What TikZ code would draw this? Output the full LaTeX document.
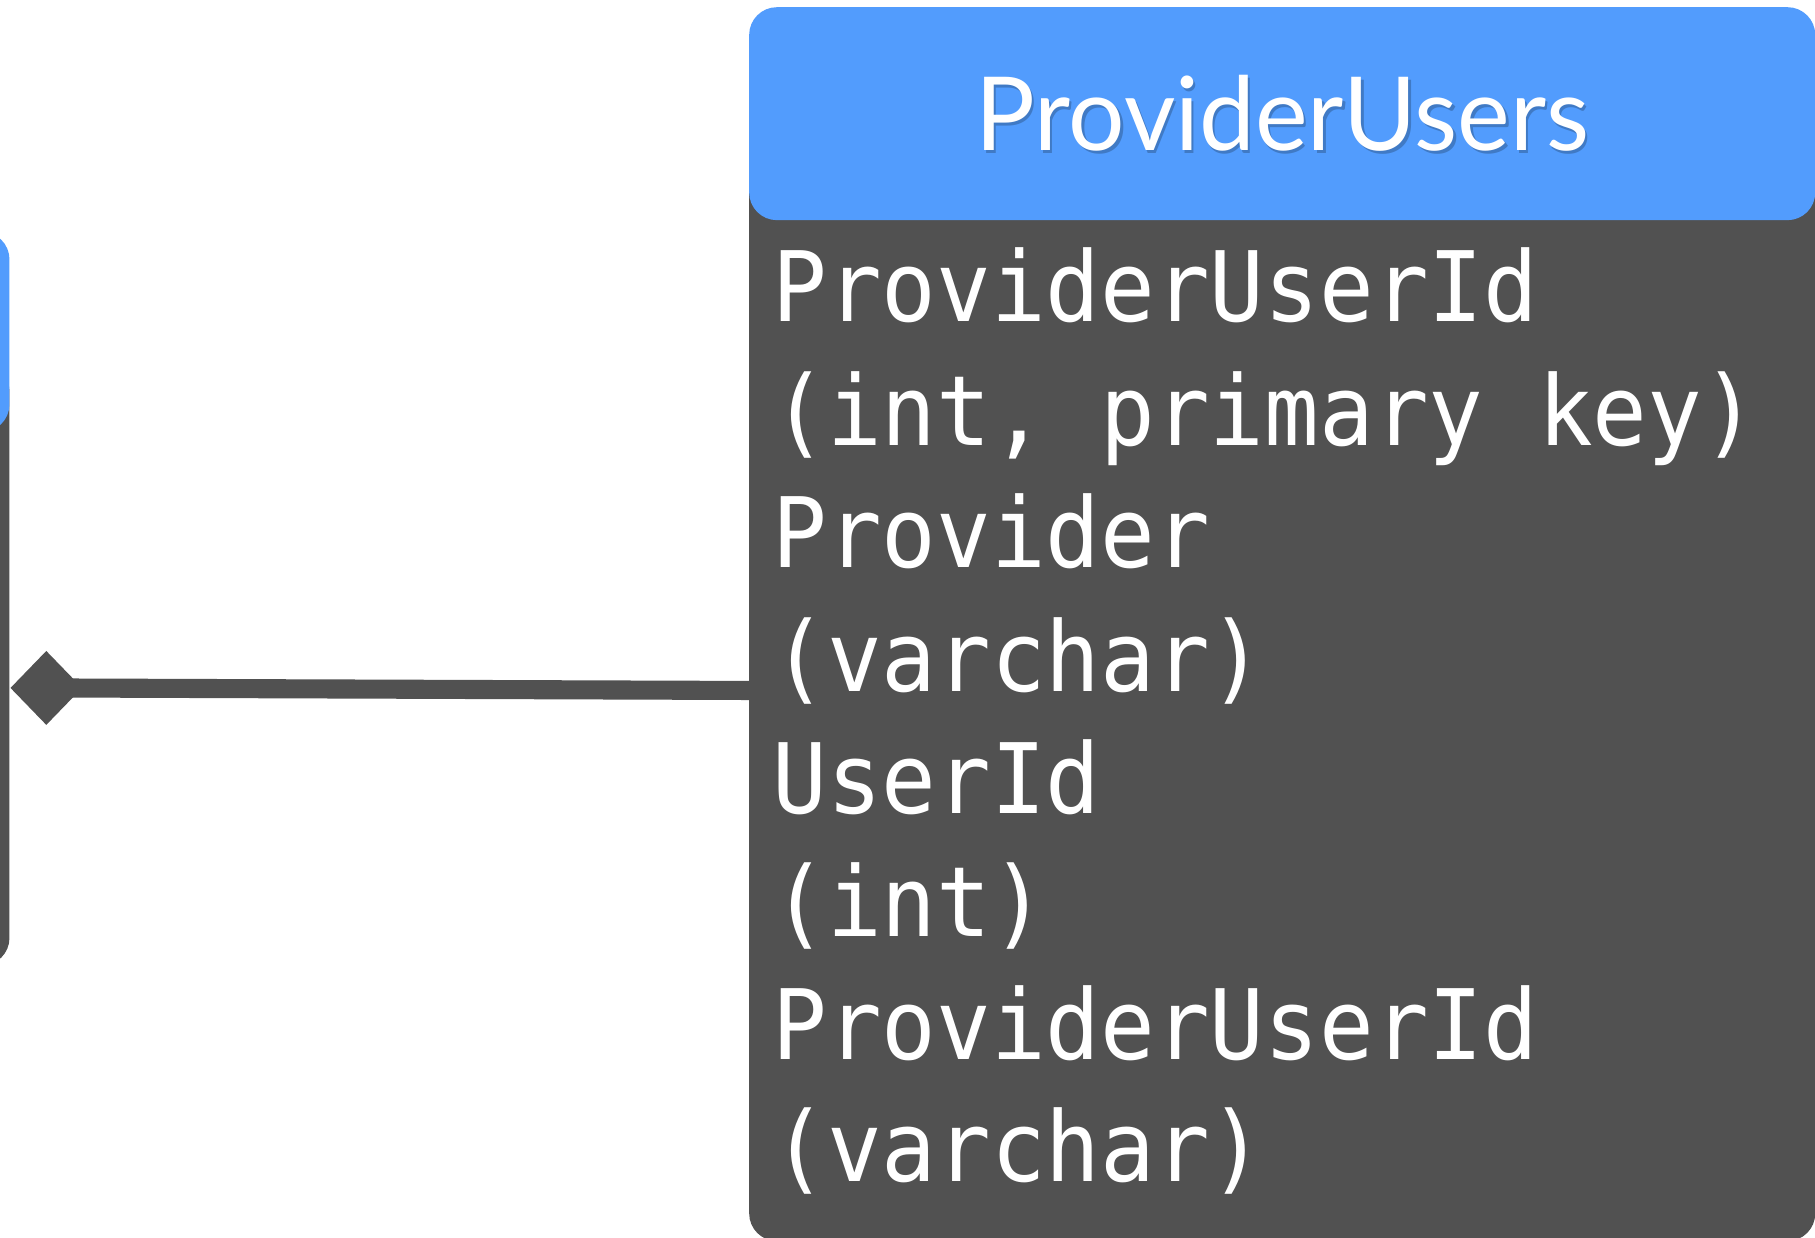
\documentclass[tikz,border=0pt]{standalone}
\usepackage{fontspec}
\usepackage{graphicx}
\usetikzlibrary{shapes.geometric}
\newfontfamily\headfont{Lato}
\newfontfamily\monofont{DejaVu Sans Mono}
\definecolor{hdrblue}{HTML}{529CFD}
\definecolor{bodygray}{HTML}{515151}
\colorlet{titleshade}{hdrblue!78!black}
\tikzset{
  boxbody/.style={rectangle, rounded corners=24pt, fill=bodygray, draw=none, inner sep=0pt, anchor=north west},
  boxhead/.style={rectangle, rounded corners=24pt, fill=hdrblue, draw=none, inner sep=0pt, anchor=north west},
  field/.style={anchor=base west, inner sep=0pt, text=white, font=\monofont\fontsize{78.5}{82}\selectfont},
  conn/.style={draw=bodygray, line width=16.5pt},
  enddiamond/.style={diamond, fill=bodygray, draw=none, inner sep=0pt, minimum width=62pt, minimum height=64pt},
}
\newcommand{\fieldtxt}[1]{\scalebox{1}[1.07]{#1}}
\newcommand{\headtxt}[1]{\resizebox{530pt}{65pt}{\headfont #1}}
\newcommand{\shadowed}[1]{\rlap{\hspace{2pt}\raisebox{-3pt}{\textcolor{titleshade}{\headtxt{#1}}}}\textcolor{white}{\headtxt{#1}}}
\begin{document}
\begin{tikzpicture}[x=1pt,y=-1pt]
\useasboundingbox (0,0) rectangle (1568,1069);
\clip (0,0) rectangle (1568,1069);
\fill[white] (0,0) rectangle (1568,1069);
% left (partial) table
\node[boxbody, minimum width=60pt, minimum height=520pt] (lbody) at (-52,314) {};
\node[boxhead, minimum width=60pt, minimum height=173pt] (lhead) at (-52,200) {};
% right table
\node[boxbody, minimum width=921pt, minimum height=932pt] (rbody) at (647,140) {};
\node[boxhead, minimum width=921pt, minimum height=184pt] (rhead) at (647,6) {};
\node[anchor=base, inner sep=0pt] (title) at (1108,130) {\shadowed{ProviderUsers}};
% fields
\node[field] (f1) at (667,278) {\fieldtxt{ProviderUserId}};
\node[field] (f2) at (667,385) {\fieldtxt{(int, primary key)}};
\node[field] (f3) at (667,490) {\fieldtxt{Provider}};
\node[field] (f4) at (667,597) {\fieldtxt{(varchar)}};
\node[field] (f5) at (667,703) {\fieldtxt{UserId}};
\node[field] (f6) at (667,809) {\fieldtxt{(int)}};
\node[field] (f7) at (667,915) {\fieldtxt{ProviderUserId}};
\node[field] (f8) at (667,1021) {\fieldtxt{(varchar)}};
% connector
\node[enddiamond] (dia) at (40,594.3) {};
\coordinate (cend) at (647,596.5);
\draw[conn] (dia.center) -- (cend);
\end{tikzpicture}
\end{document}
